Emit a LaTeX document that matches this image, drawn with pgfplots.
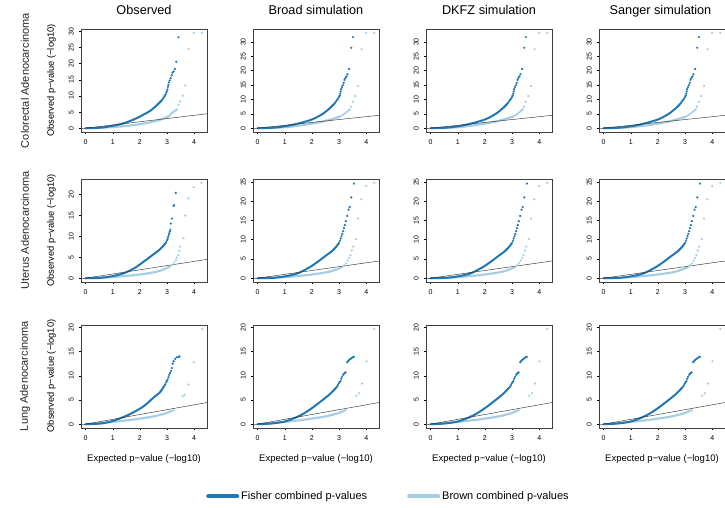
\documentclass[border=0pt]{standalone}
\usepackage{pgfplots}
\pgfplotsset{compat=1.18}
\usepackage{pgfplotstable}
\usepackage{fontspec}
\setmainfont{Liberation Sans}
\definecolor{fisher}{HTML}{1F78B4}
\definecolor{brownc}{HTML}{A6CEE3}

% ---------- Row 1: Colorectal ----------
\pgfplotstableread{
x y
0 0
0.3 0.05
0.65 0.25
0.9 0.6
1.14 0.95
1.5 1.8
1.88 3.1
2.13 4.2
2.38 5.4
2.62 7.1
2.8 8.6
}\RoneObsFD
\pgfplotstableread{
x y
2.82 8.8
2.85 9.2
2.88 9.6
2.91 10.0
2.94 10.4
2.97 10.9
2.99 11.4
3.01 12.0
3.03 12.8
3.05 13.4
3.07 14.2
3.10 14.8
3.13 15.5
3.17 16.4
3.20 17.2
3.24 17.6
3.29 18.4
3.34 20.6
3.42 28.2
}\RoneObsFP
\pgfplotstableread{
x y
0 0
0.5 0.12
0.9 0.3
1.51 0.7
2.25 1.6
2.74 2.6
2.99 3.4
3.1 4.0
}\RoneObsBD
\pgfplotstableread{
x y
3.13 4.3
3.17 4.6
3.21 4.9
3.25 5.2
3.29 5.4
3.33 5.6
3.36 5.8
3.42 7.3
3.48 8.3
3.58 10.1
3.67 13.3
3.79 24.6
3.98 29.6
4.28 29.6
}\RoneObsBP
\pgfplotstableread{
x y
0 0
0.54 0.15
1.04 0.7
1.53 1.7
2.02 3.1
2.4 5.0
2.7 7.3
2.85 8.8
}\RoneSimFD
\pgfplotstableread{
x y
2.88 9.2
2.91 9.6
2.94 10.0
2.97 10.4
3.00 10.9
3.02 11.3
3.04 12.0
3.06 12.8
3.08 13.6
3.11 14.3
3.14 15.0
3.17 15.8
3.20 16.8
3.23 17.4
3.27 18.0
3.31 18.8
3.37 20.6
3.45 28.0
3.51 31.7
}\RoneSimFP
\pgfplotstableread{
x y
0 0
0.79 0.2
1.41 0.75
2.02 1.6
2.52 2.6
2.89 3.6
3.05 4.1
}\RoneSimBD
\pgfplotstableread{
x y
3.10 4.4
3.15 4.7
3.20 5.0
3.25 5.4
3.30 5.8
3.35 6.2
3.39 6.5
3.44 7.5
3.51 9.2
3.60 11.2
3.70 14.7
3.83 27.5
4.00 33.2
4.30 33.2
}\RoneSimBP

% ---------- Row 2: Uterus ----------
\pgfplotstableread{
x y
0 0
0.43 0.02
0.92 0.4
1.42 1.2
1.85 2.6
2.15 4.0
2.46 5.5
2.71 6.7
2.89 7.9
2.97 8.6
}\RtwoObsFD
\pgfplotstableread{
x y
3.00 9.0
3.02 9.3
3.04 9.8
3.06 10.3
3.08 10.7
3.10 11.1
3.12 11.5
3.14 13.0
3.18 14.2
3.24 17.2
3.26 17.4
3.32 20.3
}\RtwoObsFP
\pgfplotstableread{
x y
0 0
0.8 0.2
1.54 0.55
2.15 1.0
2.65 1.6
2.99 2.4
3.1 2.8
}\RtwoObsBD
\pgfplotstableread{
x y
3.15 3.0
3.20 3.2
3.26 3.7
3.32 4.3
3.36 4.9
3.41 5.5
3.45 6.5
3.48 7.5
3.60 9.5
3.67 14.9
3.79 19.0
3.98 21.7
4.27 22.7
}\RtwoObsBP
\pgfplotstableread{
x y
0 0
0.45 0.02
0.95 0.4
1.45 1.2
1.88 2.7
2.2 4.2
2.5 5.8
2.75 7.1
2.92 8.4
3.0 9.2
}\RtwoSimFD
\pgfplotstableread{
x y
3.03 9.7
3.06 10.3
3.09 10.9
3.12 11.5
3.15 12.2
3.18 13.0
3.21 13.8
3.25 14.8
3.30 16.2
3.35 17.8
3.39 18.5
3.45 21.0
3.55 24.6
}\RtwoSimFP
\pgfplotstableread{
x y
0 0
0.8 0.2
1.54 0.6
2.15 1.1
2.65 1.7
2.99 2.5
3.1 2.9
}\RtwoSimBD
\pgfplotstableread{
x y
3.15 3.1
3.20 3.4
3.26 3.9
3.32 4.6
3.37 5.3
3.42 6.0
3.47 7.2
3.52 8.2
3.62 10.2
3.70 15.5
3.82 20.5
4.00 24.0
4.30 24.8
}\RtwoSimBP

% ---------- Row 3: Lung ----------
\pgfplotstableread{
x y
0 0
0.53 0.12
0.9 0.5
1.27 1.2
1.64 2.1
2.0 3.2
2.25 4.2
2.5 5.5
2.74 6.6
2.87 7.7
}\RthreeObsFD
\pgfplotstableread{
x y
2.90 7.9
2.93 8.2
2.96 8.6
2.99 8.9
3.02 9.2
3.05 9.7
3.08 10.2
3.11 10.6
3.15 11.0
3.18 11.6
3.21 12.5
3.24 13.0
3.30 13.5
3.36 13.8
3.42 13.9
3.46 14.0
}\RthreeObsFP
\pgfplotstableread{
x y
0 0
0.28 0.1
1.02 0.48
1.76 0.96
2.5 1.6
2.99 2.3
3.15 2.7
}\RthreeObsBD
\pgfplotstableread{
x y
3.20 2.8
3.24 2.9
3.57 5.8
3.64 6.1
3.79 8.2
3.98 12.8
4.30 19.7
}\RthreeObsBP
\pgfplotstableread{
x y
0 0
0.47 0.12
0.96 0.5
1.33 1.2
1.7 2.2
2.07 3.6
2.44 5.2
2.68 6.3
2.9 7.6
}\RthreeSimFD
\pgfplotstableread{
x y
2.93 7.8
2.96 8.1
2.99 8.4
3.02 8.7
3.05 8.9
3.08 9.4
3.11 9.8
3.15 10.2
3.18 10.4
3.21 10.6
3.24 10.7
3.30 12.8
3.33 13.0
3.36 13.2
3.40 13.4
3.45 13.6
3.49 13.8
3.54 13.9
}\RthreeSimFP
\pgfplotstableread{
x y
3.20 2.8
3.24 2.9
3.63 5.9
3.73 6.4
3.85 8.4
4.01 13.0
4.30 19.7
}\RthreeSimBP

\pgfplotsset{
  panel/.style={
    scale only axis, width=126pt, height=103pt, anchor=south west,
    xmin=-0.172, xmax=4.472, xtick={0,1,2,3,4},
    xtick pos=bottom, ytick pos=left,
    tick align=outside, major tick length=2.5pt,
    axis line style={black!75, line width=0.9pt},
    tick style={black, line width=0.5pt},
    ticklabel style={font=\fontsize{7}{8}\selectfont},
    yticklabel style={rotate=90, anchor=south, inner xsep=1pt, inner ysep=4.5pt},
    xticklabel style={inner xsep=1pt, inner ysep=5pt},
    /pgf/number format/assume math mode=true,
  },
  fdense/.style={color=fisher, line width=2pt, line cap=round, smooth, tension=0.5, no markers},
  bdense/.style={color=brownc, line width=2.2pt, line cap=round, smooth, tension=0.5, no markers},
  fpts/.style={color=fisher, only marks, mark=*, mark size=0.9pt, mark options={draw=none, fill=fisher}},
  bpts/.style={color=brownc, only marks, mark=*, mark size=0.9pt, mark options={draw=none, fill=brownc}},
  abline/.style={color=black!80, line width=0.45pt, no markers},
}

\newcommand{\panel}[9]{%
\begin{axis}[panel, at={(#1pt,#2pt)}, ymin=#3, ymax=#4, ytick={0,5,...,#5}]
\addplot[bdense] table {#6};
\addplot[bpts] table {#7};
\addplot[fdense] table {#8};
\addplot[fpts] table {#9};
\addplot[abline] coordinates {(-1,-1) (6,6)};
\end{axis}}

\begin{document}
\begin{tikzpicture}[x=1pt,y=1pt]
\useasboundingbox (0,0) rectangle (725,508);

% Row 1
\panel{81}{376}{-1.18}{30.78}{30}{\RoneObsBD}{\RoneObsBP}{\RoneObsFD}{\RoneObsFP}
\panel{253}{376}{-1.33}{34.53}{30}{\RoneSimBD}{\RoneSimBP}{\RoneSimFD}{\RoneSimFP}
\panel{426}{376}{-1.33}{34.53}{30}{\RoneSimBD}{\RoneSimBP}{\RoneSimFD}{\RoneSimFP}
\panel{599}{376}{-1.33}{34.53}{30}{\RoneSimBD}{\RoneSimBP}{\RoneSimFD}{\RoneSimFP}
% Row 2
\panel{81}{226}{-0.91}{23.61}{20}{\RtwoObsBD}{\RtwoObsBP}{\RtwoObsFD}{\RtwoObsFP}
\panel{253}{226}{-0.99}{25.79}{25}{\RtwoSimBD}{\RtwoSimBP}{\RtwoSimFD}{\RtwoSimFP}
\panel{426}{226}{-0.99}{25.79}{25}{\RtwoSimBD}{\RtwoSimBP}{\RtwoSimFD}{\RtwoSimFP}
\panel{599}{226}{-0.99}{25.79}{25}{\RtwoSimBD}{\RtwoSimBP}{\RtwoSimFD}{\RtwoSimFP}
% Row 3
\panel{81}{80}{-0.79}{20.49}{20}{\RthreeObsBD}{\RthreeObsBP}{\RthreeObsFD}{\RthreeObsFP}
\panel{253}{80}{-0.79}{20.49}{20}{\RthreeObsBD}{\RthreeSimBP}{\RthreeSimFD}{\RthreeSimFP}
\panel{426}{80}{-0.79}{20.49}{20}{\RthreeObsBD}{\RthreeSimBP}{\RthreeSimFD}{\RthreeSimFP}
\panel{599}{80}{-0.79}{20.49}{20}{\RthreeObsBD}{\RthreeSimBP}{\RthreeSimFD}{\RthreeSimFP}

% Column titles
\foreach \cx/\t in {144/Observed, 316/Broad simulation, 489/DKFZ simulation, 660.5/Sanger simulation}
  \node[font=\fontsize{12.7}{14}\selectfont, inner sep=0pt, anchor=base] at (\cx,493) {\t};

% Row labels and y labels
\foreach \cy/\t in {427.5/Colorectal Adenocarcinoma, 277.5/Uterus Adenocarcinoma, 132/Lung Adenocarcinoma}{
  \node[font=\fontsize{11}{13}\selectfont, rotate=90, inner sep=0pt, text=black!85] at (25,\cy) {\t};
  \node[font=\fontsize{9.3}{11}\selectfont, rotate=90, inner sep=0pt] at (51.5,\cy) {Observed p−value (−log10)};
}

% x labels
\foreach \cx in {144,316,489,662}
  \node[font=\fontsize{9.5}{11}\selectfont, inner sep=0pt] at (\cx,49) {Expected p−value (−log10)};

% Legend
\begin{axis}[hide axis, scale only axis, width=10pt, height=10pt, anchor=center,
  at={(388.5pt,11.5pt)}, xmin=0, xmax=1, ymin=0, ymax=1,
  legend columns=2,
  legend style={at={(0.5,0.5)}, anchor=center, draw=none, fill=none,
    font=\fontsize{11}{13}\selectfont,
    /tikz/every even column/.append style={column sep=38pt}},
  legend image code/.code={\draw[#1] (2pt,0pt) -- (24pt,0pt); \path (0pt,0pt) -- (29pt,0pt);}]
\addlegendimage{fisher, line width=4pt, line cap=round}
\addlegendentry{Fisher combined p-values}
\addlegendimage{brownc, line width=4pt, line cap=round}
\addlegendentry{Brown combined p-values}
\end{axis}
\end{tikzpicture}
\end{document}
